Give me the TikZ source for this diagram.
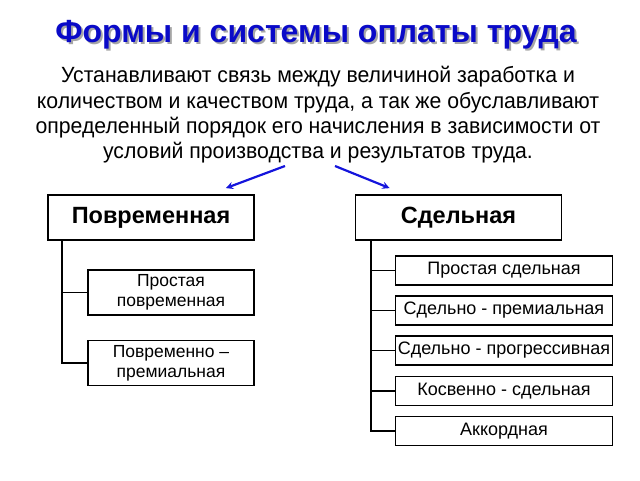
\documentclass[tikz,border=0pt]{standalone}
\usepackage{fontspec}
\setmainfont{Liberation Sans}
\newfontfamily\narrowsans[FakeStretch=0.965]{Liberation Sans}
\usetikzlibrary{arrows}
\definecolor{titleblue}{RGB}{10,10,200}
\definecolor{arrowblue}{RGB}{20,20,220}

\begin{document}
\begin{tikzpicture}[x=1pt,y=-1pt,
		headbox/.style={draw,line width=1.8pt,minimum width=206pt,minimum height=45pt,inner sep=0pt,font=\fontsize{23.5}{26}\selectfont\bfseries},
		twobox/.style={draw,line width=1.8pt,minimum width=166pt,minimum height=45pt,inner sep=0pt,align=center,font=\fontsize{17.5}{20}\selectfont},
		onebox/.style={draw,line width=1.8pt,minimum width=217pt,minimum height=29pt,inner sep=0pt,font=\fontsize{18}{20}\selectfont},
		branch/.style={line width=1.8pt,line cap=rect}]
			\useasboundingbox (0,0) rectangle (640,480);
			% title and text
			\node[color=gray!70,font=\fontsize{32}{34}\selectfont\bfseries] (titleshadow) at (318,37){Формы и системы оплаты труда};
			\node[color=titleblue,font=\fontsize{32}{34}\selectfont\bfseries] (title) at (316,35){Формы и системы оплаты труда};
			\node[align=center,font=\narrowsans\fontsize{22}{25.3}\selectfont] (text) at (318,115){Устанавливают связь между величиной заработка и\\количеством и качеством труда, а так же обуславливают\\определенный порядок его начисления в зависимости от\\условий производства и результатов труда.};
			% main forms
			\node[headbox] (pov) at (151,217.5){Повременная};
			\node[headbox] (sdel) at (458.5,217.5){Сдельная};
			\coordinate (arrL) at (285,166);
			\coordinate (arrR) at (335,166);
			\draw (arrL) edge [->,>=stealth,line width=2.2pt,color=arrowblue] ([shift={(-29,-6)}]pov.north east);
			\draw (arrR) edge [->,>=stealth,line width=2.2pt,color=arrowblue] ([shift={(35,-6)}]sdel.north west);
			% time based
			\node[twobox] (pov1) at (171,292.5){Простая\\повременная};
			\node[twobox] (pov2) at (171,363){Повременно –\\премиальная};
			\draw[branch] ([xshift=15pt]pov.south west) |- (pov1.west);
			\draw[branch] ([xshift=15pt]pov.south west) |- (pov2.west);
			% piece rate
			\node[onebox] (sdel1) at (504,270.5){Простая сдельная};
			\node[onebox] (sdel2) at (504,310.5){Сдельно - премиальная};
			\node[onebox] (sdel3) at (504,350.5){Сдельно - прогрессивная};
			\node[onebox] (sdel4) at (504,391){Косвенно - сдельная};
			\node[onebox] (sdel5) at (504,431){Аккордная};
			\foreach \k in {1,...,5}
				\draw[branch] ([xshift=16pt]sdel.south west) |- (sdel\k.west);
		\end{tikzpicture}
\end{document}
